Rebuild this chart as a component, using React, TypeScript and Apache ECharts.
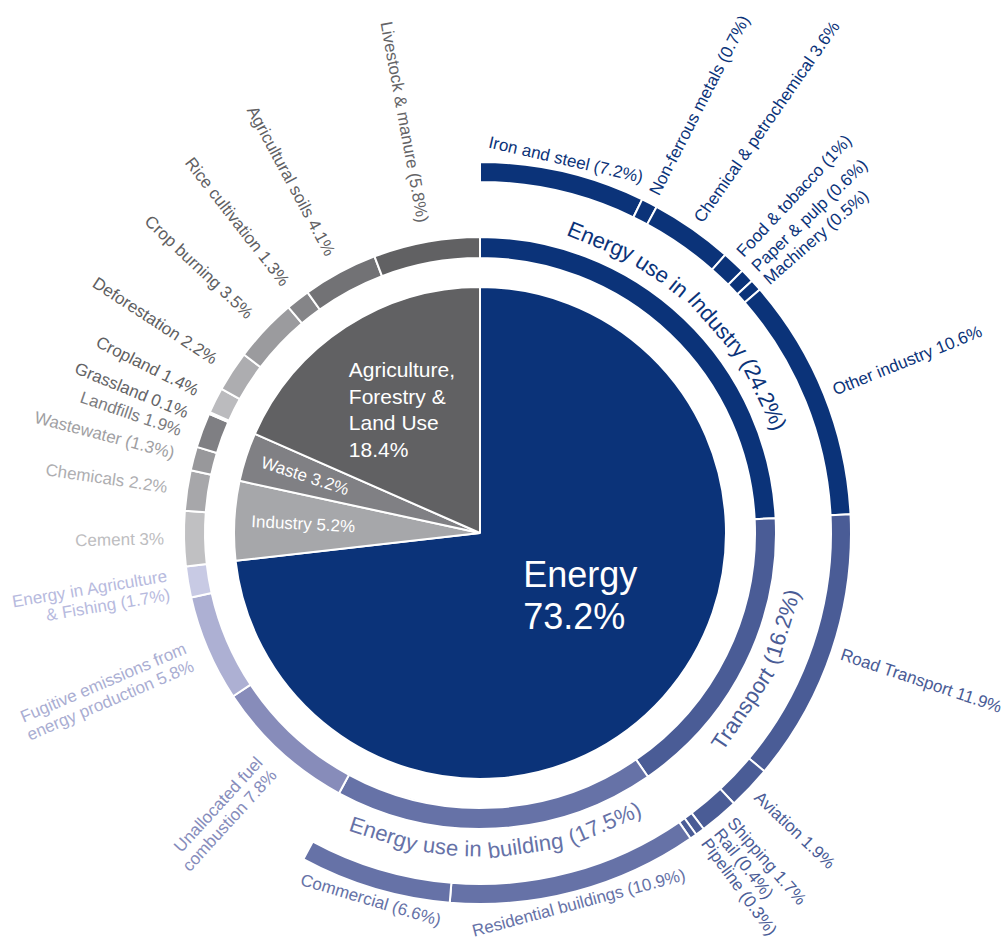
import React, { useEffect, useRef } from "react";
import * as echarts from "echarts";

// ---------------- data ----------------
const sectorNames = ["Energy", "Industry", "Waste", "Agriculture, Forestry & Land Use"];
const sectorValues = [73.2, 5.2, 3.2, 18.4];
const sectorLabels = ["Energy\n73.2%", "Industry 5.2%", "Waste 3.2%", "Agriculture,\nForestry &\nLand Use\n18.4%"];

const subNames = [
  "Energy use in Industry", "Transport", "Energy use in building", "Unallocated fuel combustion",
  "Fugitive emissions from energy production", "Energy in Agriculture & Fishing",
  "Cement", "Chemicals", "Wastewater", "Landfills", "Grassland", "Cropland", "Deforestation",
  "Crop burning", "Rice cultivation", "Agricultural soils", "Livestock & manure",
];
const subValues = [24.2, 16.2, 17.5, 7.8, 5.8, 1.7, 3, 2.2, 1.3, 1.9, 0.1, 1.4, 2.2, 3.5, 1.3, 4.1, 5.8];
const subSector = [0, 0, 0, 0, 0, 0, 1, 1, 2, 2, 3, 3, 3, 3, 3, 3, 3];
const subLabels = [
  "Energy use in Industry (24.2%)", "Transport (16.2%)", "Energy use in building (17.5%)",
  "Unallocated fuel\ncombustion 7.8%", "Fugitive emissions from\nenergy production 5.8%",
  "Energy in Agriculture\n& Fishing (1.7%)", "Cement 3%", "Chemicals 2.2%", "Wastewater (1.3%)",
  "Landfills 1.9%", "Grassland 0.1%", "Cropland 1.4%", "Deforestation 2.2%", "Crop burning 3.5%",
  "Rice cultivation 1.3%", "Agricultural soils 4.1%", "Livestock & manure (5.8%)",
];

const detailNames = [
  "Iron and steel", "Non-ferrous metals", "Chemical & petrochemical", "Food & tobacco",
  "Paper & pulp", "Machinery", "Other industry", "Road Transport", "Aviation", "Shipping",
  "Rail", "Pipeline", "Residential buildings", "Commercial",
];
const detailValues = [7.2, 0.7, 3.6, 1, 0.6, 0.5, 10.6, 11.9, 1.9, 1.7, 0.4, 0.3, 10.9, 6.6];
const detailSub = [0, 0, 0, 0, 0, 0, 0, 1, 1, 1, 1, 1, 2, 2];
const detailLabels = [
  "Iron and steel (7.2%)", "Non-ferrous metals (0.7%)", "Chemical & petrochemical 3.6%",
  "Food & tobacco (1%)", "Paper & pulp (0.6%)", "Machinery (0.5%)", "Other industry 10.6%",
  "Road Transport 11.9%", "Aviation 1.9%", "Shipping 1.7%", "Rail (0.4%)", "Pipeline (0.3%)",
  "Residential buildings (10.9%)", "Commercial (6.6%)",
];

// ---------------- styles ----------------
const CX = 480;
const CY = 533;
const R_PIE = 246;
const R_MID0 = 275;
const R_MID1 = 296;
const R_OUT0 = 351;
const R_OUT1 = 371;
const FONT = '"Liberation Sans", Arial, Helvetica, sans-serif';

const sectorColors = ["#0b3379", "#a6a7aa", "#808084", "#616163"];
const subColors = [
  "#0b3379", "#4a5c96", "#6672a7", "#878cba", "#adb0d3", "#c8cae4",
  "#c0c0c2", "#a7a7aa", "#98989b", "#7f7f83", "#b9b9bc", "#bbbbbe", "#adadb0",
  "#9b9b9e", "#858588", "#727275", "#616163",
];
const subLabelColors = [
  "#0b3379", "#4a5c96", "#6672a7", "#868cbb", "#a9add2", "#b7bade",
  "#bdbdc0", "#aeaeb1", "#a0a0a3", "#7c7c80", "#646467", "#5f5f62", "#5f5f62",
  "#5f5f62", "#606063", "#606063", "#646467",
];
const subLabelMode = [
  "curve", "curve", "curve", "radial", "radial", "radial", "radial", "radial", "radial",
  "radial", "radial", "radial", "radial", "radial", "radial", "radial", "radial",
];
const subAngleAdj = [0, 0, 0, 0, 0, 0, 0, 0, 0, -1.5, -1.7, 0, 0, 0, 0, 0, 0];
const detailColorsBySub = ["#0b3379", "#4a5c96", "#6672a7"];
const detailLabelMode = [
  "tan", "radial", "radial", "radial", "radial", "radial", "radial",
  "radial", "radial", "radial", "radial", "radial", "tan", "tan",
];
const detailAngleAdj = [0, 0, 0, -0.2, 0, 0.6, 0, 0, 0, -1.0, -2.2, -1.1, 0, 0];

export default function App() {
  const ref = useRef<HTMLDivElement>(null);

  useEffect(() => {
    if (!ref.current) return;
    const chart = echarts.init(ref.current, null, { renderer: "svg" });

    const canvas = document.createElement("canvas");
    const ctx = canvas.getContext("2d")!;
    const measure = (t: string, size: number) => {
      ctx.font = `${size}px ${FONT}`;
      return ctx.measureText(t).width;
    };

    const total = sectorValues.reduce((a, b) => a + b, 0);
    const deg = (v: number) => (v / total) * 360;
    const polar = (th: number, r: number) => {
      const t = (th * Math.PI) / 180;
      return [CX + r * Math.sin(t), CY - r * Math.cos(t)];
    };

    // angles from data
    const sectorStart: number[] = [];
    let acc = 0;
    sectorValues.forEach((v) => {
      sectorStart.push(acc);
      acc += deg(v);
    });
    const subStart: number[] = [];
    acc = 0;
    subValues.forEach((v) => {
      subStart.push(acc);
      acc += deg(v);
    });
    const detailStart: number[] = [];
    const within: Record<number, number> = {};
    detailValues.forEach((v, i) => {
      const p = detailSub[i];
      const off = within[p] || 0;
      detailStart.push(subStart[p] + off);
      within[p] = off + deg(v);
    });

    // sunburst data
    const data = sectorNames.map((n, i) => ({
      name: n,
      value: sectorValues[i],
      itemStyle: { color: sectorColors[i] },
      children: subNames
        .map((sn, j) => ({ sn, j }))
        .filter(({ j }) => subSector[j] === i)
        .map(({ sn, j }) => {
          const kids = detailNames
            .map((dn, k) => ({ dn, k }))
            .filter(({ k }) => detailSub[k] === j)
            .map(({ dn, k }) => ({
              name: dn,
              value: detailValues[k],
              itemStyle: { color: detailColorsBySub[j] },
            }));
          const node: any = { name: sn, value: subValues[j], itemStyle: { color: subColors[j] } };
          if (kids.length) node.children = kids;
          return node;
        }),
    }));

    const SMALL = 17;
    const els: any[] = [];

    const radialLabel = (text: string, th: number, r: number, color: string, size: number, alignCenter = false) => {
      const [x, y] = polar(th, r);
      const left = th > 180;
      const rot = left ? 270 - th : 90 - th;
      els.push({
        type: "text",
        x,
        y,
        z: 100,
        silent: true,
        rotation: (rot * Math.PI) / 180,
        style: {
          text,
          fill: color,
          fontSize: size,
          fontFamily: FONT,
          align: alignCenter ? "center" : left ? "right" : "left",
          verticalAlign: "middle",
          lineHeight: Math.round(size * 1.12),
        },
      });
    };
    const tanLabel = (text: string, th: number, r: number, color: string, size: number) => {
      const [x, y] = polar(th, r);
      const bottom = th > 90 && th < 270;
      const rot = bottom ? 180 - th : -th;
      els.push({
        type: "text",
        x,
        y,
        z: 100,
        silent: true,
        rotation: (rot * Math.PI) / 180,
        style: { text, fill: color, fontSize: size, fontFamily: FONT, align: "center", verticalAlign: "middle" },
      });
    };
    const curvedLabel = (text: string, mid: number, r: number, color: string, size: number) => {
      const words = text.split(" ");
      const sp = measure(" ", size);
      const widths = words.map((w) => measure(w, size));
      const tot = widths.reduce((a, b) => a + b, 0) + sp * (words.length - 1);
      const bottom = mid > 90 && mid < 270;
      const dir = bottom ? -1 : 1;
      let s = -tot / 2;
      words.forEach((w, i) => {
        const c = s + widths[i] / 2;
        const th = mid + (dir * (c / r) * 180) / Math.PI;
        const [x, y] = polar(th, r);
        const rot = bottom ? 180 - th : -th;
        els.push({
          type: "text",
          x,
          y,
          z: 100,
          silent: true,
          rotation: (rot * Math.PI) / 180,
          style: { text: w, fill: color, fontSize: size, fontFamily: FONT, align: "center", verticalAlign: "middle" },
        });
        s += widths[i] + sp;
      });
    };

    // pie labels
    sectorLabels.forEach((lab, i) => {
      const mid = sectorStart[i] + deg(sectorValues[i]) / 2;
      if (i === 0) {
        const size = 36;
        const w = Math.max(...lab.split("\n").map((l) => measure(l, size)));
        const [x, y] = polar(mid - 10, 118);
        els.push({
          type: "text", x: x - w / 2, y, z: 100, silent: true,
          style: { text: lab, fill: "#ffffff", fontSize: size, fontFamily: FONT, align: "left", verticalAlign: "middle", lineHeight: 42 },
        });
      } else if (i === 3) {
        const size = 21;
        const w = Math.max(...lab.split("\n").map((l) => measure(l, size)));
        const [x, y] = polar(mid + 0.8, 146);
        els.push({
          type: "text", x: x - w / 2, y, z: 100, silent: true,
          style: { text: lab, fill: "#ffffff", fontSize: size, fontFamily: FONT, align: "left", verticalAlign: "middle", lineHeight: 26.5 },
        });
      } else {
        radialLabel(lab, mid, i === 1 ? 177 : 184, "#ffffff", SMALL, true);
      }
    });

    // middle ring labels
    subLabels.forEach((lab, j) => {
      const mid = subStart[j] + deg(subValues[j]) / 2 + subAngleAdj[j];
      if (subLabelMode[j] === "curve") curvedLabel(lab, mid, 316, subLabelColors[j], 22);
      else radialLabel(lab, mid, 316, subLabelColors[j], SMALL);
    });

    // outer ring labels
    detailLabels.forEach((lab, k) => {
      const mid = detailStart[k] + deg(detailValues[k]) / 2 + detailAngleAdj[k];
      const color = detailColorsBySub[detailSub[k]];
      if (detailLabelMode[k] === "tan") tanLabel(lab, mid, 383, color, SMALL);
      else radialLabel(lab, mid, 381, color, SMALL);
    });

    chart.setOption({
      animation: false,
      backgroundColor: "#ffffff",
      series: [
        {
          type: "sunburst",
          center: [CX, CY],
          radius: [0, R_OUT1],
          startAngle: 90,
          clockwise: true,
          sort: null,
          nodeClick: false,
          silent: true,
          label: { show: false },
          itemStyle: { borderColor: "#ffffff", borderWidth: 2 },
          emphasis: { disabled: true },
          levels: [
            {},
            { r0: 0, r: R_PIE },
            { r0: R_MID0, r: R_MID1 },
            { r0: R_OUT0, r: R_OUT1 },
          ],
          data,
        },
      ],
      graphic: { elements: els },
    });

    return () => chart.dispose();
  }, []);

  return (
    <div
      ref={ref}
      style={{ position: "fixed", left: 0, top: 0, width: 1008, height: 940, background: "#ffffff" }}
    />
  );
}
